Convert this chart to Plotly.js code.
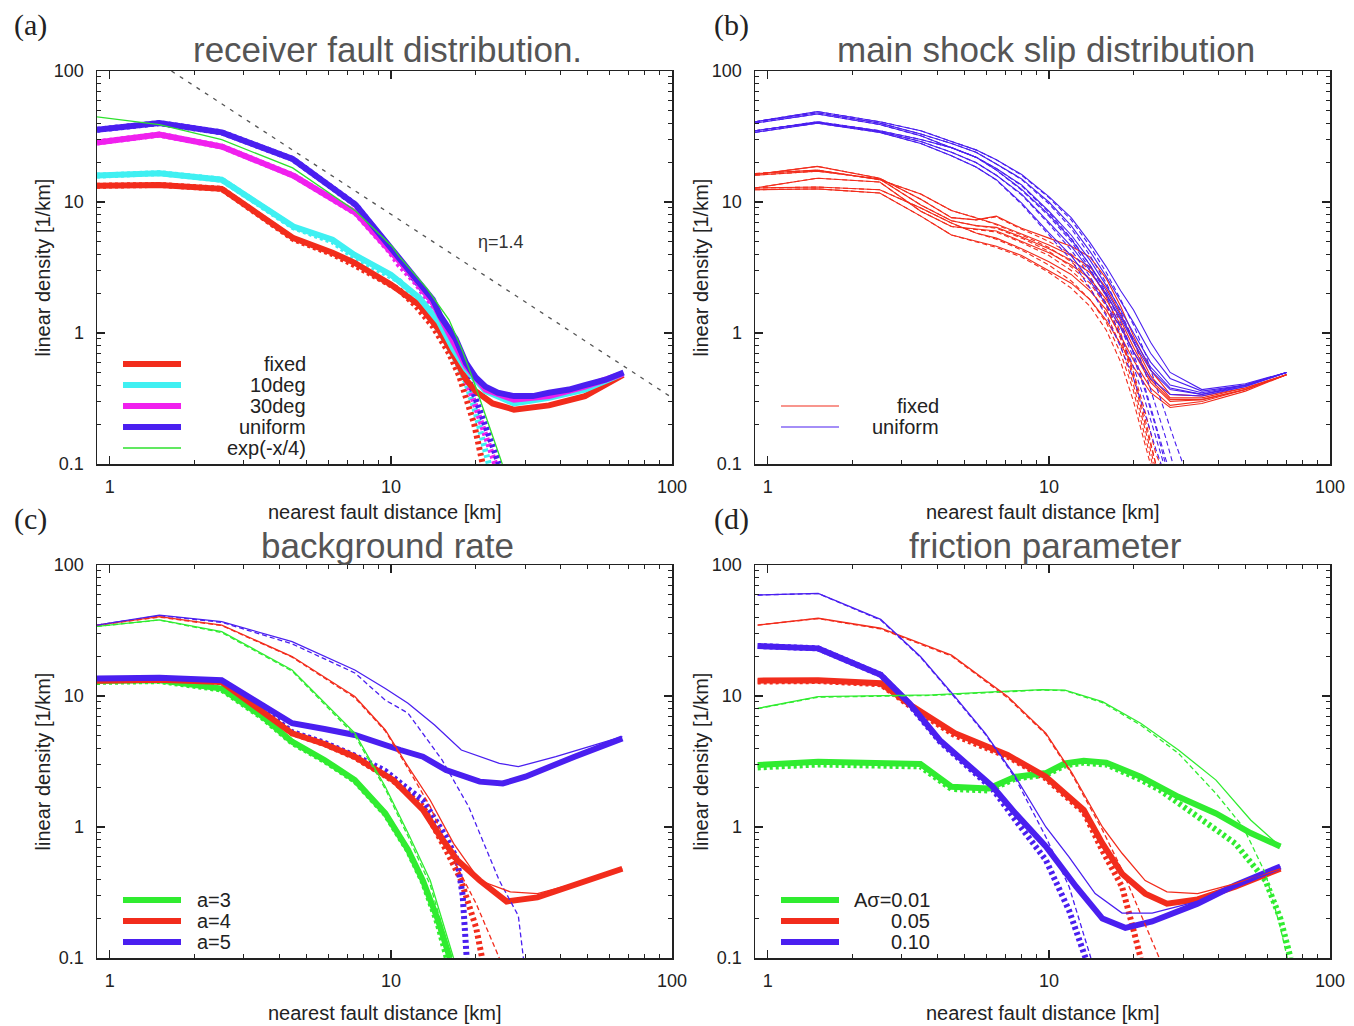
<!DOCTYPE html>
<html>
<head>
<meta charset="utf-8">
<script src="https://cdn.plot.ly/plotly-3.0.1.min.js"></script>
<style>html,body{margin:0;padding:0;background:#fff;}#chart{width:1354px;height:1026px;}</style>
</head>
<body>
<div id="chart"></div>
<script>
// ---------------- DATA ----------------
// axis ticks
const xTickVals = [1, 10, 100];
const xTickText = ['1', '10', '100'];
const yTickVals = [0.1, 1, 10, 100];
const yTickText = ['0.1', '1', '10', '100'];
const xMinorVals = [2,3,4,5,6,7,8,9,20,30,40,50,60,70,80,90];
const yMinorVals = [0.2,0.3,0.4,0.5,0.6,0.7,0.8,0.9,2,3,4,5,6,7,8,9,20,30,40,50,60,70,80,90];

// panel titles / labels
const panelTitles = ['receiver fault distribution.', 'main shock slip distribution', 'background rate', 'friction parameter'];
const panelLetters = ['(a)', '(b)', '(c)', '(d)'];
const xTitle = 'nearest fault distance [km]';
const yTitle = 'linear density [1/km]';

// ---- panel (a) receiver fault distribution ----
const aLegend = ['fixed', '10deg', '30deg', 'uniform', 'exp(-x/4)'];
const aFixedX = [0.9, 1.5, 2.5, 4.5, 6.2, 7.4, 10, 12.6, 14.8, 16.7, 18.5, 20, 23, 27.4, 36.5, 49, 67];
const aFixedY = [13.3, 13.5, 12.6, 5.3, 4.1, 3.45, 2.34, 1.64, 1.06, 0.68, 0.44, 0.36, 0.29, 0.26, 0.28, 0.33, 0.48];
const aFixedDX = [0.9, 1.5, 2.5, 4.5, 6.2, 7.4, 10.7, 12.3, 14.1, 16.1, 17.5, 18.5, 19.8, 21.2];
const aFixedDY = [13.3, 13.5, 12.6, 5.2, 4.0, 3.3, 2.14, 1.6, 1.12, 0.70, 0.47, 0.33, 0.2, 0.1];
const a10X = [0.9, 1.5, 2.5, 4.5, 6.2, 7.4, 10, 12.6, 14.8, 16.7, 18.5, 21.7, 27.4, 36.5, 49, 67];
const a10Y = [15.9, 16.6, 14.8, 6.5, 5.15, 3.96, 2.79, 1.86, 1.22, 0.75, 0.53, 0.36, 0.29, 0.32, 0.37, 0.49];
const a10DX = [0.9, 1.5, 2.5, 4.5, 6.2, 7.4, 10.7, 12.3, 14.1, 16.1, 17.5, 18.5, 20, 21.2, 22.3];
const a10DY = [15.9, 16.6, 14.8, 6.4, 5.0, 3.8, 2.5, 1.85, 1.25, 0.78, 0.55, 0.42, 0.25, 0.16, 0.1];
const a30X = [0.9, 1.5, 2.5, 4.5, 7.5, 9.9, 12, 14.1, 16.1, 18.5, 21.7, 27.4, 36.5, 49, 67];
const a30Y = [28.5, 32.7, 26.5, 15.9, 8.27, 4.33, 2.7, 1.7, 1.0, 0.56, 0.37, 0.31, 0.33, 0.39, 0.49];
const a30DX = [0.9, 1.5, 2.5, 4.5, 7.5, 9.9, 10.7, 12.3, 14.1, 16.1, 18.5, 21.1, 23.5];
const a30DY = [28.5, 32.7, 26.5, 15.9, 8.2, 4.2, 3.3, 2.4, 1.55, 0.92, 0.45, 0.2, 0.1];
const aUniX = [0.9, 1.5, 2.5, 4.47, 7.5, 8.85, 10.7, 12.3, 14.1, 15, 16.1, 17, 18.5, 20, 21.7, 24, 27.4, 32, 36.5, 43, 49, 58, 67.3];
const aUniY = [35.6, 40, 34, 21.3, 9.5, 6.15, 3.74, 2.6, 1.8, 1.35, 1.06, 0.9, 0.59, 0.46, 0.39, 0.35, 0.33, 0.33, 0.35, 0.37, 0.4, 0.44, 0.5];
const aUniDX = [0.9, 1.5, 2.5, 4.47, 7.5, 8.85, 10.7, 12.3, 14.1, 16.1, 18.5, 21.1, 24.2];
const aUniDY = [35.6, 40, 34, 21.3, 9.5, 6.1, 3.7, 2.55, 1.7, 1.0, 0.5, 0.23, 0.1];
const aExpX = [0.9, 1.5, 2.5, 4.47, 7.5, 10.1, 10.7, 13.4, 16.1, 17.9, 20, 24.9];
const aExpY = [44.6, 38.9, 29.9, 18.2, 8.5, 4.58, 3.85, 2.2, 1.26, 0.746, 0.39, 0.1];
const etaX = [1.656, 100];
const etaY = [100, 0.321];
const etaLabel = 'η=1.4';

// ---- panel (b) main shock slip distribution ----
const bLegend = ['fixed', 'uniform'];
const bSolidX = [0.9, 1.5, 2.5, 3.5, 4.5, 5.5, 6.5, 8, 10, 12, 14, 16, 18, 20, 23, 27, 35, 50, 70];
const bFixed1 = [16.2, 18.7, 15.2, 10.5, 7.6, 7.3, 7.8, 6.3, 5.3, 4.6, 3.8, 2.6, 1.6, 0.95, 0.52, 0.34, 0.33, 0.38, 0.48];
const bFixed2 = [16.5, 17.5, 14.8, 11.5, 8.6, 7.6, 6.8, 5.7, 4.7, 3.9, 3.2, 2.2, 1.4, 0.85, 0.47, 0.32, 0.32, 0.38, 0.48];
const bFixed3 = [12.8, 15.2, 14.2, 8.5, 6.5, 6.2, 6.0, 5.0, 4.1, 3.3, 2.6, 1.8, 1.15, 0.72, 0.42, 0.30, 0.31, 0.37, 0.48];
const bFixed4 = [12.8, 13.0, 12.4, 9.0, 6.9, 5.8, 5.3, 4.4, 3.5, 2.8, 2.1, 1.5, 0.95, 0.62, 0.38, 0.28, 0.30, 0.37, 0.48];
const bFixed5 = [12.4, 12.6, 11.7, 7.8, 5.6, 5.0, 4.6, 3.9, 3.0, 2.4, 1.8, 1.25, 0.82, 0.55, 0.35, 0.27, 0.29, 0.36, 0.48];
const bFixed6 = [16.0, 17.2, 15.0, 9.5, 7.2, 6.6, 6.4, 5.4, 4.4, 3.6, 2.9, 2.0, 1.25, 0.78, 0.44, 0.31, 0.31, 0.37, 0.48];
const bUni1 = [41, 49, 41, 35, 29, 25, 21, 16.2, 11, 7.6, 4.9, 3.2, 2.1, 1.5, 0.85, 0.5, 0.37, 0.41, 0.5];
const bUni2 = [41, 48, 40, 33, 28, 24, 19.5, 15, 10, 6.6, 4.2, 2.7, 1.75, 1.2, 0.7, 0.45, 0.36, 0.4, 0.5];
const bUni3 = [35, 41, 35, 30, 26, 22, 18, 13.5, 8.5, 5.6, 3.6, 2.3, 1.5, 1.0, 0.6, 0.4, 0.35, 0.4, 0.5];
const bUni4 = [35, 40.5, 34.5, 29, 24, 20, 16, 11.5, 7.0, 4.6, 3.0, 1.95, 1.3, 0.85, 0.52, 0.37, 0.34, 0.39, 0.5];
const bUni5 = [34, 40, 34, 28, 22.5, 18.5, 14.8, 9.8, 5.8, 3.9, 2.5, 1.65, 1.1, 0.72, 0.45, 0.34, 0.33, 0.39, 0.5];
const bUni6 = [40, 47, 39, 32, 26, 22, 17.5, 12.5, 8.0, 5.2, 3.3, 2.1, 1.35, 0.9, 0.55, 0.38, 0.34, 0.4, 0.5];
const bDashX = [0.9, 1.5, 2.5, 3.5, 4.5, 5.5, 6.5, 8, 10, 12, 14, 16, 18, 20, 22, 24, 26, 28, 30, 32];
const bFixedD1 = [16.2, 18.7, 15.2, 10.5, 7.6, 7.3, 7.7, 6.2, 5.0, 4.0, 3.0, 1.9, 1.0, 0.5, 0.25, 0.12, 0.08];
const bFixedD2 = [16.5, 17.5, 14.8, 11.5, 8.6, 7.6, 6.7, 5.6, 4.5, 3.5, 2.6, 1.7, 0.95, 0.48, 0.22, 0.1, 0.07];
const bFixedD3 = [12.8, 15.2, 14.2, 8.5, 6.5, 6.2, 5.9, 4.9, 3.9, 3.0, 2.2, 1.4, 0.8, 0.4, 0.18, 0.09];
const bFixedD4 = [12.8, 13.0, 12.4, 9.0, 6.9, 5.8, 5.2, 4.3, 3.3, 2.5, 1.8, 1.2, 0.7, 0.36, 0.16, 0.08];
const bFixedD5 = [12.4, 12.6, 11.7, 7.8, 5.6, 5.0, 4.5, 3.8, 2.9, 2.2, 1.6, 1.05, 0.6, 0.3, 0.14, 0.07];
const bFixedD6 = [16.0, 17.2, 15.0, 9.5, 7.2, 6.6, 6.3, 5.3, 4.2, 3.2, 2.4, 1.6, 0.9, 0.45, 0.2, 0.1, 0.07];
const bUniD1 = [41, 49, 41, 35, 29, 25, 21, 16, 10.8, 7.3, 4.6, 2.9, 1.8, 1.15, 0.7, 0.4, 0.24, 0.15, 0.1, 0.07];
const bUniD2 = [41, 48, 40, 33, 28, 24, 19.5, 14.8, 9.7, 6.3, 3.9, 2.4, 1.45, 0.88, 0.5, 0.28, 0.16, 0.09];
const bUniD3 = [35, 41, 35, 30, 26, 22, 18, 13.3, 8.3, 5.3, 3.3, 2.0, 1.2, 0.7, 0.38, 0.2, 0.11, 0.07];
const bUniD4 = [35, 40.5, 34.5, 29, 24, 20, 16, 11.3, 6.8, 4.3, 2.7, 1.65, 0.95, 0.55, 0.3, 0.16, 0.09];
const bUniD5 = [34, 40, 34, 28, 22.5, 18.5, 14.7, 9.6, 5.6, 3.6, 2.2, 1.35, 0.78, 0.45, 0.24, 0.13, 0.08];
const bUniD6 = [40, 47, 39, 32, 26, 22, 17.5, 12.3, 7.8, 5.0, 3.1, 1.9, 1.1, 0.65, 0.36, 0.19, 0.1, 0.07];

// ---- panel (c) background rate ----
const cLegend = ['a=3', 'a=4', 'a=5'];
const cG3X = [0.9, 1.5, 2.5, 3.5, 4.45, 5.8, 7.44, 9.55, 11.5, 13.0, 14.7, 16.2];
const cG3Y = [13.0, 13.2, 11.4, 6.95, 4.48, 3.25, 2.28, 1.27, 0.67, 0.39, 0.195, 0.1];
const cG3DX = [0.9, 1.5, 2.5, 3.5, 4.45, 5.8, 7.44, 9.55, 11.5, 13.0, 14.7, 15.8];
const cG3DY = [12.8, 13.0, 11.2, 6.8, 4.4, 3.2, 2.25, 1.25, 0.66, 0.38, 0.18, 0.1];
const cR4X = [0.9, 1.5, 2.5, 3.5, 4.45, 5.8, 7.44, 10.2, 13.0, 14.7, 17.2, 20.7, 25.8, 33.2, 45, 66.6];
const cR4Y = [13.1, 13.3, 12.8, 7.6, 5.19, 4.3, 3.44, 2.28, 1.35, 0.9, 0.56, 0.39, 0.27, 0.29, 0.36, 0.48];
const cR4DX = [0.9, 1.5, 2.5, 3.5, 4.45, 5.8, 7.44, 10.2, 13.0, 15.7, 17.7, 20.1, 21.1];
const cR4DY = [13.1, 13.3, 12.8, 7.6, 5.2, 4.3, 3.4, 2.25, 1.43, 0.67, 0.4, 0.17, 0.1];
const cB5X = [0.9, 1.5, 2.5, 3.5, 4.45, 5.8, 7.44, 10.8, 13.0, 15.7, 20.7, 25, 30.1, 45, 66.6];
const cB5Y = [13.6, 13.8, 13.2, 8.5, 6.2, 5.6, 5.04, 3.87, 3.44, 2.72, 2.22, 2.15, 2.42, 3.44, 4.75];
const cB5DX = [0.9, 1.5, 2.5, 3.5, 4.45, 5.8, 7.44, 9.5, 11, 13, 15.7, 17.2, 18, 18.6];
const cB5DY = [13.4, 13.6, 13.0, 7.9, 5.3, 4.4, 3.5, 2.7, 2.1, 1.6, 0.84, 0.56, 0.3, 0.1];
const cB5tX = [0.9, 1.5, 2.5, 4.45, 7.44, 9.55, 11.5, 14.3, 17.8, 24.3, 28.4, 38.6, 66.6];
const cB5tY = [34.8, 41.5, 36.9, 26, 15.8, 11.4, 8.8, 6.0, 3.87, 3.06, 2.89, 3.44, 4.9];
const cB5tDX = [0.9, 1.5, 2.5, 4.45, 7.44, 9.55, 11.5, 15.2, 18.9, 24.3, 28.4, 29.6];
const cB5tDY = [34.8, 41, 36.5, 25, 15, 9.3, 7.4, 3.25, 1.43, 0.39, 0.21, 0.1];
const cR4tX = [0.9, 1.5, 2.5, 4.45, 7.44, 9.55, 11.5, 13.8, 16.7, 20.7, 26.6, 33.2, 45, 66.6];
const cR4tY = [34.8, 40.3, 34.8, 20, 9.9, 5.5, 2.9, 1.6, 0.75, 0.39, 0.32, 0.31, 0.37, 0.48];
const cR4tDX = [0.9, 1.5, 2.5, 4.45, 7.44, 9.55, 11.5, 13.8, 16.7, 20.1, 24.3];
const cR4tDY = [34.8, 40, 34.5, 19.8, 9.7, 5.4, 2.8, 1.43, 0.56, 0.26, 0.1];
const cG3tX = [0.9, 1.5, 2.5, 4.45, 7.44, 9.55, 11.5, 13.8, 16.7];
const cG3tY = [34, 38.1, 31, 15.8, 5.2, 2.03, 0.9, 0.39, 0.1];
const cG3tDX = [0.9, 1.5, 2.5, 4.45, 7.44, 9.55, 11.5, 13.8, 16.4];
const cG3tDY = [34, 38, 30.5, 15.5, 5.0, 1.95, 0.85, 0.36, 0.1];

// ---- panel (d) friction parameter ----
const dLegend = ['Aσ=0.01', '0.05', '0.10'];
const dB10X = [0.92, 1.51, 2.52, 3.19, 4.09, 5.24, 6.31, 7.6, 9.75, 12.5, 15.5, 18.7, 23.3, 33.8, 46, 66.6];
const dB10Y = [24.1, 23.1, 14.5, 8.8, 4.6, 2.89, 2.03, 1.27, 0.71, 0.35, 0.2, 0.17, 0.19, 0.26, 0.36, 0.5];
const dB10DX = [0.92, 1.51, 2.52, 3.19, 4.09, 5.24, 6.31, 7.6, 9.75, 11.8, 13.5];
const dB10DY = [24.1, 23.1, 14.5, 8.6, 4.5, 2.8, 1.95, 1.13, 0.56, 0.23, 0.1];
const dB10tX = [0.92, 1.51, 2.52, 3.49, 4.63, 5.94, 7.6, 9.75, 11.8, 14.6, 18.2, 23.3, 33.8, 66.6];
const dB10tY = [59, 60.8, 38.5, 20, 9.9, 5.19, 2.42, 1.0, 0.59, 0.31, 0.22, 0.22, 0.27, 0.5];
const dB10tDX = [0.92, 1.51, 2.52, 3.49, 4.63, 5.94, 7.6, 9.75, 11.8, 14.1];
const dB10tDY = [59, 60.5, 38, 19.8, 9.7, 5.1, 2.35, 0.84, 0.35, 0.1];
const dR05X = [0.92, 1.51, 2.52, 3.28, 4.63, 7.13, 9.75, 13.3, 15.5, 18.2, 22, 26.3, 33.8, 46, 66.6];
const dR05Y = [13.1, 13.2, 12.5, 8.3, 5.2, 3.55, 2.42, 1.35, 0.75, 0.44, 0.31, 0.26, 0.28, 0.35, 0.48];
const dR05DX = [0.92, 1.51, 2.52, 3.28, 4.63, 7.13, 9.75, 13.3, 15.5, 18.2, 19.9, 21.2];
const dR05DY = [12.9, 13.0, 12.3, 8.1, 5.0, 3.45, 2.35, 1.3, 0.66, 0.35, 0.17, 0.1];
const dR05tX = [0.92, 1.51, 2.52, 4.5, 7.13, 9.75, 12.1, 15.5, 18.2, 22, 26.3, 33.8, 46, 66.6];
const dR05tY = [34.8, 39.2, 32.9, 20.5, 9.9, 5.2, 2.57, 1.0, 0.63, 0.39, 0.32, 0.31, 0.37, 0.48];
const dR05tDX = [0.92, 1.51, 2.52, 4.5, 7.13, 9.75, 12.1, 15.5, 18.2, 21.2, 24.7];
const dR05tDY = [34.8, 39, 32.5, 20.2, 9.7, 5.1, 2.5, 0.95, 0.47, 0.22, 0.1];
const dG01X = [0.92, 1.51, 3.49, 4.5, 6.1, 7.6, 9.75, 11.4, 13.3, 16, 21.2, 28.9, 39.3, 52.2, 66.6];
const dG01Y = [2.97, 3.15, 3.03, 2.03, 1.97, 2.42, 2.58, 3.06, 3.2, 3.1, 2.42, 1.7, 1.27, 0.9, 0.71];
const dG01DX = [0.92, 1.51, 3.49, 4.5, 6.1, 7.6, 9.75, 11.4, 13.3, 16, 21.2, 24.8, 33.8, 46, 59, 66.6, 72.4];
const dG01DY = [2.85, 3.0, 2.9, 1.95, 1.9, 2.35, 2.5, 2.95, 3.1, 3.0, 2.3, 1.92, 1.2, 0.75, 0.39, 0.2, 0.1];
const dG01tX = [0.92, 1.51, 3.84, 7.13, 9.44, 11.4, 15.5, 21.2, 28.9, 39.3, 52.2, 66.6];
const dG01tY = [8.05, 9.9, 10.2, 10.8, 11.2, 11.1, 9.05, 6.2, 3.87, 2.28, 1.13, 0.71];
const dG01tDX = [0.92, 1.51, 3.84, 7.13, 9.44, 11.4, 15.5, 21.2, 28.9, 39.3, 49.1, 59, 66.6, 70.5];
const dG01tDY = [8.0, 9.8, 10.1, 10.7, 11.1, 11.0, 8.9, 6.0, 3.65, 1.8, 1.0, 0.44, 0.17, 0.1];

// ---------------- STYLE ----------------
const W = 1354, H = 1026;
const RED = '#f22c1c', CYAN = '#3ff0f2', MAG = '#f020ee', BLUE = '#4a1ff0', GREEN = '#2de02d', GREEN2 = '#30ec30';
const SANS = 'Liberation Sans, Arial, Helvetica, sans-serif';
const SERIF = 'Liberation Serif, Times New Roman, serif';
const TXT = '#222';
const THICK = 6, THIN = 1.3;
const DOT = '3px,3px', DASH = '5px,3px';

const px = v => v / W;
const py = v => 1 - v / H;

// plot boxes in pixels: [left, right, top, bottom]
const boxes = [[97, 672, 71, 464], [755, 1330, 71, 464], [97, 672, 565, 958], [755, 1330, 565, 958]];
const letterPos = [[30, 25], [731, 25], [30, 519], [731, 519]];
const titleY = [49, 49, 545, 545];
const xTitleY = [512, 512, 1013, 1013];

function ln(k, x, y, color, width, dash) {
  const s = k === 0 ? '' : String(k + 1);
  return {type: 'scatter', mode: 'lines', x: x, y: y, xaxis: 'x' + s, yaxis: 'y' + s,
          line: {color: color, width: width, dash: dash || 'solid'}, hoverinfo: 'skip', showlegend: false};
}

const traces = [];
// (a)
traces.push(ln(0, aFixedDX, aFixedDY, RED, THICK, DOT));
traces.push(ln(0, a10DX, a10DY, CYAN, THICK, DOT));
traces.push(ln(0, a30DX, a30DY, MAG, THICK, DOT));
traces.push(ln(0, aUniDX, aUniDY, BLUE, THICK, DOT));
traces.push(ln(0, aFixedX, aFixedY, RED, THICK));
traces.push(ln(0, a10X, a10Y, CYAN, THICK));
traces.push(ln(0, a30X, a30Y, MAG, THICK));
traces.push(ln(0, aUniX, aUniY, BLUE, THICK));
traces.push(ln(0, aExpX, aExpY, GREEN, 1.3));
traces.push(ln(0, etaX, etaY, '#555', 1.3, '4px,6px'));
// (b)
[bFixedD1, bFixedD2, bFixedD3, bFixedD4, bFixedD5, bFixedD6].forEach(y => traces.push(ln(1, bDashX.slice(0, y.length), y, RED, 1.1, DASH)));
[bFixed1, bFixed2, bFixed3, bFixed4, bFixed5, bFixed6].forEach(y => traces.push(ln(1, bSolidX, y, RED, 1.1)));
[bUniD1, bUniD2, bUniD3, bUniD4, bUniD5, bUniD6].forEach(y => traces.push(ln(1, bDashX.slice(0, y.length), y, BLUE, 1.1, DASH)));
[bUni1, bUni2, bUni3, bUni4, bUni5, bUni6].forEach(y => traces.push(ln(1, bSolidX, y, BLUE, 1.1)));
// (c)
traces.push(ln(2, cG3DX, cG3DY, GREEN2, THICK, DOT));
traces.push(ln(2, cR4DX, cR4DY, RED, THICK, DOT));
traces.push(ln(2, cB5DX, cB5DY, BLUE, THICK, DOT));
traces.push(ln(2, cG3X, cG3Y, GREEN2, THICK));
traces.push(ln(2, cR4X, cR4Y, RED, THICK));
traces.push(ln(2, cB5X, cB5Y, BLUE, THICK));
traces.push(ln(2, cG3tDX, cG3tDY, GREEN2, THIN, DASH));
traces.push(ln(2, cR4tDX, cR4tDY, RED, THIN, DASH));
traces.push(ln(2, cB5tDX, cB5tDY, BLUE, THIN, DASH));
traces.push(ln(2, cG3tX, cG3tY, GREEN2, THIN));
traces.push(ln(2, cR4tX, cR4tY, RED, THIN));
traces.push(ln(2, cB5tX, cB5tY, BLUE, THIN));
// (d)
traces.push(ln(3, dG01DX, dG01DY, GREEN2, THICK, DOT));
traces.push(ln(3, dR05DX, dR05DY, RED, THICK, DOT));
traces.push(ln(3, dB10DX, dB10DY, BLUE, THICK, DOT));
traces.push(ln(3, dG01X, dG01Y, GREEN2, THICK));
traces.push(ln(3, dR05X, dR05Y, RED, THICK));
traces.push(ln(3, dB10X, dB10Y, BLUE, THICK));
traces.push(ln(3, dG01tDX, dG01tDY, GREEN2, THIN, DASH));
traces.push(ln(3, dR05tDX, dR05tDY, RED, THIN, DASH));
traces.push(ln(3, dB10tDX, dB10tDY, BLUE, THIN, DASH));
traces.push(ln(3, dG01tX, dG01tY, GREEN2, THIN));
traces.push(ln(3, dR05tX, dR05tY, RED, THIN));
traces.push(ln(3, dB10tX, dB10tY, BLUE, THIN));

// ---------------- LAYOUT ----------------
const layout = {
  width: W, height: H, autosize: false,
  margin: {l: 0, r: 0, t: 0, b: 0, pad: 0},
  paper_bgcolor: '#fff', plot_bgcolor: '#fff',
  showlegend: false,
  font: {family: SANS, color: TXT},
  annotations: [], shapes: []
};

function axisCommon(vals, text, minorVals) {
  return {
    type: 'log', tickmode: 'array', tickvals: vals, ticktext: text,
    ticks: 'inside', ticklen: 8, tickwidth: 1.2, tickcolor: '#222',
    showline: true, linecolor: '#222', linewidth: 1.5, mirror: 'allticks',
    showgrid: false, zeroline: false,
    tickfont: {family: SANS, size: 18, color: TXT},
    minor: {tickmode: 'array', tickvals: minorVals, ticks: 'inside', ticklen: 4, tickwidth: 1, tickcolor: '#222', showgrid: false}
  };
}

boxes.forEach((b, k) => {
  const s = k === 0 ? '' : String(k + 1);
  const xa = axisCommon(xTickVals, xTickText, xMinorVals);
  xa.range = [Math.log10(0.9), 2];
  xa.domain = [px(b[0]), px(b[1])];
  xa.anchor = 'y' + s;
  xa.ticklabelstandoff = 6;
  const ya = axisCommon(yTickVals, yTickText, yMinorVals);
  ya.range = [-1, 2];
  ya.domain = [py(b[3]), py(b[2])];
  ya.anchor = 'x' + s;
  ya.ticklabelstandoff = 8;
  layout['xaxis' + s] = xa;
  layout['yaxis' + s] = ya;

  const cx = (b[0] + b[1]) / 2;
  // panel title
  layout.annotations.push({xref: 'paper', yref: 'paper', x: px(cx + 3), y: py(titleY[k]), text: panelTitles[k],
    showarrow: false, xanchor: 'center', yanchor: 'middle', font: {family: SANS, size: 35, color: '#555'}});
  // panel letter
  layout.annotations.push({xref: 'paper', yref: 'paper', x: px(letterPos[k][0]), y: py(letterPos[k][1]), text: panelLetters[k],
    showarrow: false, xanchor: 'center', yanchor: 'middle', font: {family: SERIF, size: 30, color: TXT}});
  // x title
  layout.annotations.push({xref: 'paper', yref: 'paper', x: px(cx), y: py(xTitleY[k]), text: xTitle,
    showarrow: false, xanchor: 'center', yanchor: 'middle', font: {family: SANS, size: 20, color: TXT}});
  // y title
  layout.annotations.push({xref: 'paper', yref: 'paper', x: px(b[0] - 55), y: py((b[2] + b[3]) / 2), text: yTitle,
    textangle: -90, showarrow: false, xanchor: 'center', yanchor: 'middle', font: {family: SANS, size: 20, color: TXT}});
});

// eta label
layout.annotations.push({xref: 'paper', yref: 'paper', x: px(501), y: py(242), text: etaLabel, showarrow: false,
  xanchor: 'center', yanchor: 'middle', font: {family: SANS, size: 18, color: '#333'}});

// legends drawn as samples + text
function legendItem(x0, x1, y, color, width, text, textX, anchor) {
  layout.shapes.push({type: 'line', xref: 'paper', yref: 'paper', x0: px(x0), x1: px(x1), y0: py(y), y1: py(y),
    line: {color: color, width: width}});
  layout.annotations.push({xref: 'paper', yref: 'paper', x: px(textX), y: py(y), text: text, showarrow: false,
    xanchor: anchor, yanchor: 'middle', font: {family: SANS, size: 20, color: TXT}});
}
const aColors = [RED, CYAN, MAG, BLUE, GREEN];
aLegend.forEach((t, i) => legendItem(123, 181, 364 + 21 * i, aColors[i], i === 4 ? 1.3 : THICK, t, 308, 'right'));
const bColors = [RED, BLUE];
bLegend.forEach((t, i) => legendItem(781, 839, 406 + 21 * i, bColors[i], 1.1, t, 941, 'right'));
const cColors = [GREEN2, RED, BLUE];
cLegend.forEach((t, i) => legendItem(123, 181, 900 + 21 * i, cColors[i], THICK, t, 195, 'left'));
dLegend.forEach((t, i) => legendItem(781, 839, 900 + 21 * i, cColors[i], THICK, t, 932, 'right'));

Plotly.newPlot('chart', traces, layout, {staticPlot: true, displayModeBar: false});
</script>
</body>
</html>
